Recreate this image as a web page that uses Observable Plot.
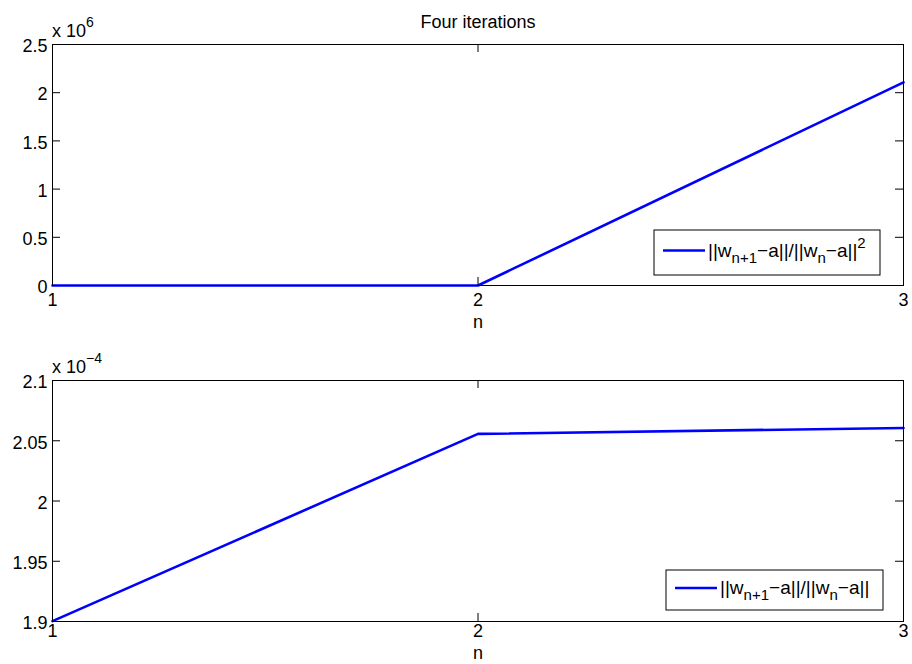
<!DOCTYPE html>
<html><head><meta charset="utf-8">
<script src="https://cdn.jsdelivr.net/npm/d3@7"></script>
<script src="https://cdn.jsdelivr.net/npm/@observablehq/plot@0.6"></script>
<style>
html,body{margin:0;padding:0;background:#fff;}
#chart{position:relative;width:912px;height:664px;font-family:"Liberation Sans",Arial,Helvetica,sans-serif;}
#chart svg{position:absolute;left:0;overflow:visible;}
</style></head><body><div id="chart"></div>
<script>
// ---- data ----
const n = [1, 2, 3];
const ratioSquared = [0, 0, 2.107e6];          // ||w_{n+1}-a|| / ||w_n-a||^2
const ratioPlain = [1.9003e-4, 2.0557e-4, 2.0606e-4]; // ||w_{n+1}-a|| / ||w_n-a||
const xTicks = [1, 2, 3];
const topYTicks = [0, 0.5e6, 1e6, 1.5e6, 2e6, 2.5e6];
const bottomYTicks = [1.9e-4, 1.95e-4, 2e-4, 2.05e-4, 2.1e-4];
const titleText = "Four iterations";
const xLabel = "n";

const W = 912, ML = 52, MR = 9;
const PW = W - ML - MR;
const TL = 8; // inward tick length
const FS = 18;
const font = '"Liberation Sans",Arial,Helvetica,sans-serif';

function panel({values, yDomain, yTicks, scale, expo, top, height, marginTop, marginBottom, title, legend, nOffset, xPad}) {
  const PH = height - marginTop - marginBottom;
  const data = n.map((x, i) => ({n: x, v: values[i]}));
  const fmt = d => String(+(d / scale).toPrecision(6));
  const marks = [
    Plot.line(data, {x: "n", y: "v", stroke: "#0000ff", strokeWidth: 2.6}),
    Plot.frame({stroke: "#000", strokeWidth: 1}),
    Plot.tickY(yTicks, {y: d => d, insetRight: PW - TL, stroke: "#000"}),
    Plot.tickY(yTicks, {y: d => d, insetLeft: PW - TL, stroke: "#000"}),
    Plot.tickX(xTicks, {x: d => d, insetTop: PH - TL, stroke: "#000"}),
    Plot.tickX(xTicks, {x: d => d, insetBottom: PH - TL, stroke: "#000"}),
    Plot.axisY(yTicks, {tickSize: 0, tickPadding: 5, dy: 2, tickFormat: fmt, label: null, fontSize: FS, fill: "#000"}),
    Plot.axisX(xTicks, {tickSize: 0, tickPadding: xPad, tickFormat: d => String(d), label: null, fontSize: FS, fill: "#000"}),
    Plot.text([xLabel], {frameAnchor: "bottom", lineAnchor: "middle", dy: nOffset, fontSize: FS, fill: "#000"})
  ];
  if (title) marks.push(Plot.text([title], {frameAnchor: "top", lineAnchor: "middle", dy: -22, fontSize: FS, fill: "#000"}));
  const svg = Plot.plot({
    width: W, height,
    marginLeft: ML, marginRight: MR, marginTop, marginBottom,
    style: {fontFamily: font, background: "white", overflow: "visible"},
    x: {domain: [1, 3]},
    y: {domain: yDomain},
    marks
  });
  svg.style.top = top + "px";
  const s = d3.select(svg);
  const xr = svg.scale("x").range, yr = svg.scale("y").range;
  const left = xr[0], right = xr[1], bottom = yr[0], topY = yr[1];
  // exponent label
  const ex = s.append("text").attr("x", left).attr("y", topY - 7).attr("text-anchor", "start")
    .attr("font-size", FS).attr("font-family", font).attr("fill", "#000");
  ex.append("tspan").text("x 10");
  ex.append("tspan").attr("dy", -10).attr("font-size", 14).text(expo);
  // legend
  const g = s.append("g").attr("text-anchor", "start");
  g.append("rect").attr("x", right - legend.r - legend.w).attr("y", bottom - legend.b - legend.h)
    .attr("width", legend.w).attr("height", legend.h).attr("fill", "#fff").attr("stroke", "#000").attr("stroke-width", 1);
  const ly = bottom - legend.b - legend.h / 2 - 2;
  const lx = right - legend.r - legend.w + legend.pad;
  g.append("line").attr("x1", lx).attr("x2", lx + 42).attr("y1", ly).attr("y2", ly)
    .attr("stroke", "#0000ff").attr("stroke-width", 2.4);
  const t = g.append("text").attr("x", lx + 45).attr("y", ly + 6).attr("text-anchor", "start")
    .attr("font-size", 19).attr("font-family", font).attr("fill", "#000");
  t.append("tspan").text("||w");
  t.append("tspan").attr("dy", 6).attr("font-size", 15).text("n+1");
  t.append("tspan").attr("dy", -6).text("\u2212a||/||w");
  t.append("tspan").attr("dy", 6).attr("font-size", 15).text("n");
  t.append("tspan").attr("dy", -6).text("\u2212a||");
  if (legend.sup) t.append("tspan").attr("dy", -9).attr("font-size", 15).text(legend.sup);
  return svg;
}

const chart = document.getElementById("chart");
chart.append(panel({
  values: ratioSquared, yDomain: [0, 2.5e6], yTicks: topYTicks, scale: 1e6, expo: "6",
  top: 0, height: 332, marginTop: 44, marginBottom: 47, title: titleText, nOffset: 37, xPad: 8,
  legend: {w: 226, h: 45, r: 23, b: 10, pad: 9, sup: "2"}
}));
chart.append(panel({
  values: ratioPlain, yDomain: [1.9e-4, 2.1e-4], yTicks: bottomYTicks, scale: 1e-4, expo: "\u22124",
  top: 332, height: 332, marginTop: 48, marginBottom: 43, title: null, nOffset: 32, xPad: 3,
  legend: {w: 217, h: 40, r: 20, b: 11, pad: 9, sup: null}
}));
</script></body></html>
